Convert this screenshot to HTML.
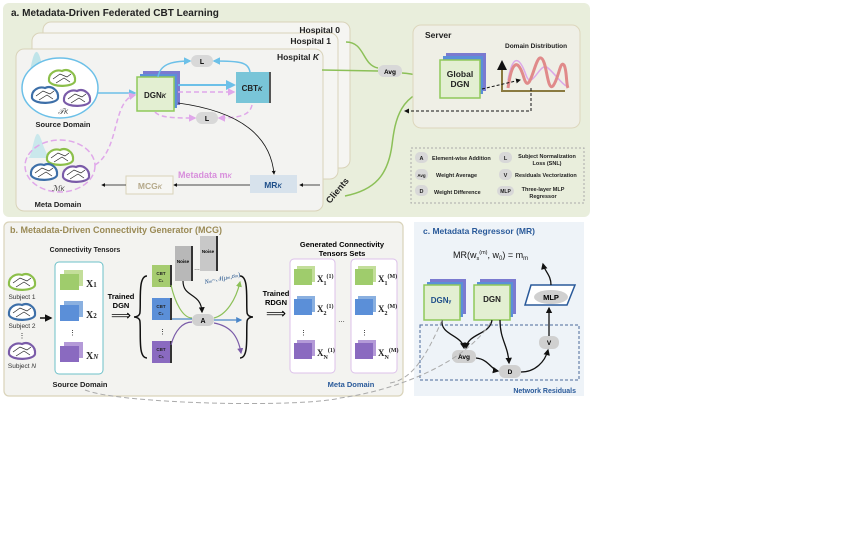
<!DOCTYPE html>
<html><head><meta charset="utf-8"><style>
html,body{margin:0;padding:0;background:#fff;}
svg{display:block;font-family:"Liberation Sans",Arial,sans-serif;}
.b{font-weight:bold;}
</style></head><body>
<svg width="857" height="542" viewBox="0 0 857 542" xmlns="http://www.w3.org/2000/svg">
<defs>
<marker id="ak" viewBox="0 0 10 10" refX="8" refY="5" markerWidth="5" markerHeight="5" orient="auto"><path d="M0,0L10,5L0,10z" fill="#111"/></marker>
<marker id="ab" viewBox="0 0 10 10" refX="8" refY="5" markerWidth="5" markerHeight="5" orient="auto"><path d="M0,0L10,5L0,10z" fill="#6cc0e8"/></marker>
<marker id="ap" viewBox="0 0 10 10" refX="8" refY="5" markerWidth="5" markerHeight="5" orient="auto"><path d="M0,0L10,5L0,10z" fill="#e0a8ea"/></marker>
<marker id="ag" viewBox="0 0 10 10" refX="8" refY="5" markerWidth="5" markerHeight="5" orient="auto"><path d="M0,0L10,5L0,10z" fill="#8cc058"/></marker>
<marker id="av" viewBox="0 0 10 10" refX="8" refY="5" markerWidth="5" markerHeight="5" orient="auto"><path d="M0,0L10,5L0,10z" fill="#7a5ba8"/></marker>
<marker id="abl" viewBox="0 0 10 10" refX="8" refY="5" markerWidth="5" markerHeight="5" orient="auto"><path d="M0,0L10,5L0,10z" fill="#4a86c8"/></marker>
<g id="brain"><path d="M-13,2 C-14,-6 -6,-10 0,-8 C6,-11 14,-6 13,2 C12,8 -10,9 -13,2z" fill="#fff" stroke-width="2.2"/><path d="M-9,0 L-2,-5 L5,-2 L9,-5 M-6,4 L2,-1 L8,3" stroke="#222" stroke-width="0.7" fill="none"/></g>
</defs>

<!-- Panel a -->
<rect x="3" y="3" width="587" height="214" rx="6" fill="#e9eedc"/>
<text x="11" y="16" class="b" font-size="10" fill="#222">a. Metadata-Driven Federated CBT Learning</text>
<rect x="43" y="22" width="307" height="146" rx="8" fill="#f5f5f2" stroke="#d9d3b9"/>
<rect x="32" y="33" width="306" height="146" rx="8" fill="#f5f5f2" stroke="#d9d3b9"/>
<rect x="16" y="49" width="307" height="162" rx="8" fill="#f3f3f1" stroke="#d9d3b9"/>
<text x="340" y="33" text-anchor="end" class="b" font-size="8.5" fill="#222">Hospital 0</text>
<text x="331" y="44" text-anchor="end" class="b" font-size="8.5" fill="#222">Hospital 1</text>
<text x="319" y="60" text-anchor="end" class="b" font-size="8.5" fill="#222">Hospital <tspan font-style="italic">K</tspan></text>

<path d="M26,80 C30,80 32,50 37,52 C42,55 42,78 50,80z" fill="#a8dde6" opacity="0.7"/>
<ellipse cx="60" cy="88" rx="38" ry="30" fill="#fff" stroke="#6cc0e8" stroke-width="1.5"/>
<use href="#brain" x="62" y="79" stroke="#8cbf4a"/>
<use href="#brain" x="45" y="96" stroke="#3d6fa8"/>
<use href="#brain" x="77" y="99" stroke="#7a5ba8"/>
<text x="58" y="114" font-size="8" font-style="italic" fill="#333">𝒯<tspan font-size="6">K</tspan></text>
<text x="63" y="127" text-anchor="middle" class="b" font-size="7.5" fill="#222">Source Domain</text>
<path d="M28,158 C32,158 34,132 38,134 C42,136 44,156 52,158z" fill="#b8e2ea" opacity="0.7"/>
<ellipse cx="60" cy="166" rx="35" ry="26" fill="none" stroke="#e0a8ea" stroke-width="1.5" stroke-dasharray="6,3"/>
<use href="#brain" x="60" y="158" stroke="#8cbf4a"/>
<use href="#brain" x="44" y="173" stroke="#3d6fa8"/>
<use href="#brain" x="76" y="175" stroke="#7a5ba8"/>
<text x="52" y="191" font-size="8" font-style="italic" fill="#333">ℳ<tspan font-size="6">K</tspan></text>
<text x="58" y="207" text-anchor="middle" class="b" font-size="7.5" fill="#222">Meta Domain</text>

<rect x="143" y="71" width="37" height="34" fill="#7a7ad0"/>
<rect x="140" y="74" width="37" height="34" fill="#5b8fd8"/>
<rect x="137" y="77" width="37" height="34" fill="#e3efd2" stroke="#8fc95a" stroke-width="1.5"/>
<text x="155" y="98" text-anchor="middle" class="b" font-size="8" fill="#222">DGN<tspan font-size="6" font-style="italic">K</tspan></text>
<rect x="236" y="72" width="33" height="31" fill="#79c5d8"/>
<rect x="269" y="72" width="2" height="31" fill="#555"/>
<text x="252" y="91" text-anchor="middle" class="b" font-size="8" fill="#222">CBT<tspan font-size="6" font-style="italic">K</tspan></text>
<rect x="191" y="55" width="22" height="12" rx="6" fill="#d8d8d8"/><text x="202" y="64" text-anchor="middle" class="b" font-size="7">L</text>
<rect x="196" y="112" width="22" height="12" rx="6" fill="#d8d8d8"/><text x="207" y="121" text-anchor="middle" class="b" font-size="7">L</text>
<path d="M158,77 C160,65 170,61 190,61" stroke="#6cc0e8" stroke-width="1.5" fill="none" marker-end="url(#ab)"/>
<path d="M250,72 C248,62 240,61 214,61" stroke="#6cc0e8" stroke-width="1.5" fill="none" marker-end="url(#ab)"/>
<line x1="97" y1="93" x2="135" y2="93" stroke="#6cc0e8" stroke-width="1.5" marker-end="url(#ab)"/>
<line x1="178" y1="85" x2="234" y2="85" stroke="#6cc0e8" stroke-width="2" marker-end="url(#ab)"/>
<line x1="178" y1="92" x2="234" y2="92" stroke="#e0a8ea" stroke-width="1.5" stroke-dasharray="5,3" marker-end="url(#ap)"/>
<path d="M155,112 C160,118 175,118 195,118" stroke="#e0a8ea" stroke-width="1.5" stroke-dasharray="5,3" fill="none" marker-end="url(#ap)"/>
<path d="M252,105 C250,115 240,118 219,118" stroke="#e0a8ea" stroke-width="1.5" stroke-dasharray="5,3" fill="none" marker-end="url(#ap)"/>
<path d="M95,165 C120,150 112,100 135,95" stroke="#e0a8ea" stroke-width="1.5" stroke-dasharray="5,3" fill="none" marker-end="url(#ap)"/>
<path d="M178,103 C230,110 270,130 274,174" stroke="#111" stroke-width="0.8" fill="none" marker-end="url(#ak)"/>
<rect x="250" y="175" width="47" height="18" fill="#d7e2ec"/>
<text x="273" y="188" text-anchor="middle" class="b" font-size="8.5" fill="#1e4f8a">MR<tspan font-size="6" font-style="italic">K</tspan></text>
<rect x="126" y="176" width="47" height="18" fill="#f6f6f3" stroke="#d9d3b9"/>
<text x="150" y="189" text-anchor="middle" class="b" font-size="8.5" fill="#b5a98a">MCG<tspan font-size="6" font-style="italic">K</tspan></text>
<text x="178" y="178" class="b" font-size="9" fill="#d88fdc">Metadata m<tspan font-size="6" font-style="italic">K</tspan></text>
<line x1="250" y1="185" x2="174" y2="185" stroke="#111" stroke-width="0.8" marker-end="url(#ak)"/>
<line x1="126" y1="185" x2="102" y2="185" stroke="#111" stroke-width="0.8" marker-end="url(#ak)"/>
<line x1="320" y1="185" x2="300" y2="185" stroke="#111" stroke-width="0.8" marker-end="url(#ak)"/>
<text x="330" y="204" class="b" font-size="9" fill="#222" transform="rotate(-50 330 204)">Clients</text>

<path d="M346,42 C365,42 362,65 378,68" stroke="#8cc058" stroke-width="1.5" fill="none"/>
<path d="M322,70 L378,71" stroke="#8cc058" stroke-width="1.5" fill="none"/>
<rect x="378" y="65" width="24" height="12" rx="6" fill="#d8d8d8"/><text x="390" y="74" text-anchor="middle" class="b" font-size="6.5">Avg</text>
<path d="M402,73 C420,74 420,78 438,79" stroke="#8cc058" stroke-width="1.5" fill="none" marker-end="url(#ag)"/>
<path d="M437,88 C400,92 395,120 392,145 C388,175 375,190 345,196" stroke="#8cc058" stroke-width="1.5" fill="none"/>

<rect x="413" y="25" width="167" height="103" rx="8" fill="#efefe6" stroke="#ddd6bc"/>
<text x="425" y="38" class="b" font-size="8.5" fill="#222">Server</text>
<rect x="446" y="53" width="40" height="38" fill="#7a7ad0"/>
<rect x="443" y="56" width="40" height="38" fill="#5b8fd8"/>
<rect x="440" y="60" width="40" height="38" fill="#e3efd2" stroke="#8fc95a" stroke-width="1.5"/>
<text x="460" y="77" text-anchor="middle" class="b" font-size="8.5" fill="#222">Global</text>
<text x="460" y="87" text-anchor="middle" class="b" font-size="8.5" fill="#222">DGN</text>
<text x="505" y="48" class="b" font-size="6.5" fill="#222">Domain Distribution</text>
<path d="M508,80 C513,52 520,58 526,75 C532,92 540,60 548,68 C556,75 560,82 566,86" stroke="#dba8e8" stroke-width="1.5" fill="none"/>
<path d="M508,88 C512,60 518,58 524,78 C530,98 535,55 541,58 C547,60 547,92 553,86 C559,78 560,60 564,65 C567,70 566,84 568,88" stroke="#e08a8a" stroke-width="3" fill="none"/>
<path d="M502,92 L502,62" stroke="#8a7a40" stroke-width="2" fill="none" marker-end="url(#ak)"/>
<path d="M502,91 L565,91" stroke="#8a7a40" stroke-width="2" fill="none"/>
<path d="M482,89 L520,80" stroke="#111" stroke-dasharray="3,2" fill="none" marker-end="url(#ak)"/>
<path d="M531,88 L531,111 L405,111" stroke="#111" stroke-dasharray="3,2" fill="none" marker-end="url(#ak)"/>

<rect x="411" y="148" width="173" height="55" fill="none" stroke="#aaa" stroke-dasharray="2,2"/>
<g font-size="5.5" class="b" fill="#222">
<rect x="415" y="152" width="13" height="11" rx="5" fill="#d8d8d8"/><text x="421.5" y="160" text-anchor="middle">A</text><text x="432" y="160">Element-wise Addition</text>
<rect x="415" y="169" width="13" height="11" rx="5" fill="#d8d8d8"/><text x="421.5" y="177" text-anchor="middle" font-size="4.5">Avg</text><text x="436" y="177">Weight Average</text>
<rect x="415" y="185" width="13" height="11" rx="5" fill="#d8d8d8"/><text x="421.5" y="193" text-anchor="middle">D</text><text x="434" y="194">Weight Difference</text>
<rect x="499" y="152" width="13" height="11" rx="5" fill="#d8d8d8"/><text x="505.5" y="160" text-anchor="middle">L</text><text x="547" y="158" text-anchor="middle">Subject Normalization</text><text x="547" y="165" text-anchor="middle">Loss (SNL)</text>
<rect x="499" y="169" width="13" height="11" rx="5" fill="#d8d8d8"/><text x="505.5" y="177" text-anchor="middle">V</text><text x="515" y="177">Residuals Vectorization</text>
<rect x="497" y="186" width="17" height="10" rx="5" fill="#d8d8d8"/><text x="505.5" y="193" text-anchor="middle" font-size="5">MLP</text><text x="543" y="191" text-anchor="middle">Three-layer MLP</text><text x="543" y="198" text-anchor="middle">Regressor</text>
</g>

<!-- Panel b -->
<rect x="4" y="222" width="399" height="174" rx="5" fill="#f3f3f0" stroke="#d9d3b9" stroke-width="1.2"/>
<text x="10" y="233" class="b" font-size="9" fill="#9a8a55">b. Metadata-Driven Connectivity Generator (MCG)</text>
<text x="85" y="252" text-anchor="middle" class="b" font-size="7" fill="#222">Connectivity Tensors</text>
<use href="#brain" x="22" y="283" stroke="#8cbf4a"/>
<text x="22" y="299" text-anchor="middle" font-size="6.5" fill="#333">Subject 1</text>
<use href="#brain" x="22" y="313" stroke="#3d6fa8"/>
<text x="22" y="328" text-anchor="middle" font-size="6.5" fill="#333">Subject 2</text>
<text x="22" y="338" text-anchor="middle" font-size="7">⋮</text>
<use href="#brain" x="22" y="352" stroke="#7a5ba8"/>
<text x="22" y="368" text-anchor="middle" font-size="6.5" fill="#333">Subject <tspan font-style="italic">N</tspan></text>
<line x1="40" y1="318" x2="51" y2="318" stroke="#111" stroke-width="1.5" marker-end="url(#ak)"/>
<rect x="55" y="262" width="48" height="112" rx="4" fill="#fff" stroke="#6cc0c8"/>
<rect x="64" y="270" width="19" height="16" fill="#c3de9a"/><rect x="60" y="274" width="19" height="16" fill="#9fcc6c"/>
<rect x="64" y="301" width="19" height="16" fill="#8ab0e0"/><rect x="60" y="305" width="19" height="16" fill="#5b8fd8"/>
<rect x="64" y="342" width="19" height="16" fill="#b49ad8"/><rect x="60" y="346" width="19" height="16" fill="#8a6ac0"/>
<text x="69" y="335" font-size="7">⋮</text>
<g font-family="Liberation Serif,serif" font-weight="bold" font-size="10" fill="#222">
<text x="86" y="287">X<tspan font-size="7">1</tspan></text><text x="86" y="318">X<tspan font-size="7">2</tspan></text><text x="86" y="359">X<tspan font-size="7" font-style="italic">N</tspan></text>
</g>
<text x="80" y="387" text-anchor="middle" class="b" font-size="7.5" fill="#222">Source Domain</text>
<text x="121" y="299" text-anchor="middle" class="b" font-size="7.5">Trained</text>
<text x="121" y="308" text-anchor="middle" class="b" font-size="7.5">DGN</text>
<text x="121" y="320" text-anchor="middle" font-size="14">⟹</text>
<path d="M147,276 C138,276 141,300 140,312 C140,316 136,317 134,317 C136,317 140,318 140,322 C141,336 138,358 147,358" stroke="#111" stroke-width="1.5" fill="none"/>
<path d="M240,276 C249,276 246,300 247,312 C247,316 251,317 253,317 C251,317 247,318 247,322 C246,336 249,358 240,358" stroke="#111" stroke-width="1.5" fill="none"/>
<rect x="152" y="265" width="18" height="22" fill="#a6cc70"/><rect x="170" y="265" width="2" height="22" fill="#333"/>
<rect x="152" y="298" width="18" height="22" fill="#5b8fd8"/><rect x="170" y="298" width="2" height="22" fill="#333"/>
<rect x="152" y="341" width="18" height="22" fill="#8a6ac0"/><rect x="170" y="341" width="2" height="22" fill="#333"/>
<g font-size="4.5" class="b" fill="#222"><text x="161" y="275" text-anchor="middle">CBT</text><text x="161" y="282" text-anchor="middle">C₁</text><text x="161" y="308" text-anchor="middle">CBT</text><text x="161" y="315" text-anchor="middle">C₂</text><text x="161" y="351" text-anchor="middle">CBT</text><text x="161" y="358" text-anchor="middle">Cₙ</text></g>
<text x="159" y="334" font-size="7">⋮</text>
<rect x="175" y="246" width="16" height="35" fill="#b8b8b8"/><rect x="191" y="246" width="2" height="35" fill="#333"/>
<rect x="200" y="236" width="16" height="35" fill="#c8c8c8"/><rect x="216" y="236" width="2" height="35" fill="#333"/>
<text x="183" y="263" text-anchor="middle" font-size="4.5" class="b">Noise</text><text x="208" y="253" text-anchor="middle" font-size="4.5" class="b">Noise</text>
<text x="194" y="270" font-size="6">…</text>
<text x="205" y="284" font-size="6.5" font-style="italic" fill="#1e4f8a" font-family="Liberation Serif,serif" transform="rotate(-12 205 284)">N<tspan font-size="4.5">m</tspan>~𝒩(μ<tspan font-size="4.5">m</tspan>,σ<tspan font-size="4.5">m</tspan>)</text>
<rect x="192" y="314" width="22" height="12" rx="6" fill="#d0d0d0"/><text x="203" y="323" text-anchor="middle" class="b" font-size="7">A</text>
<path d="M183,281 C183,298 201,292 202,312" stroke="#111" stroke-width="1.2" fill="none" marker-end="url(#ak)"/>
<path d="M171,285 C175,303 183,318 192,318" stroke="#8cc058" stroke-width="1.2" fill="none"/>
<line x1="172" y1="319" x2="192" y2="319" stroke="#4a86c8" stroke-width="1.2"/>
<path d="M171,345 C175,330 183,322 192,322" stroke="#7a5ba8" stroke-width="1.2" fill="none"/>
<path d="M214,318 C226,315 236,300 240,282" stroke="#8cc058" stroke-width="1.2" fill="none" marker-end="url(#ag)"/>
<line x1="214" y1="320" x2="241" y2="320" stroke="#4a86c8" stroke-width="1.2" marker-end="url(#abl)"/>
<path d="M214,323 C230,326 238,335 241,353" stroke="#7a5ba8" stroke-width="1.2" fill="none" marker-end="url(#av)"/>
<text x="276" y="296" text-anchor="middle" class="b" font-size="7.5">Trained</text>
<text x="276" y="305" text-anchor="middle" class="b" font-size="7.5">RDGN</text>
<text x="276" y="318" text-anchor="middle" font-size="14">⟹</text>
<text x="342" y="247" text-anchor="middle" class="b" font-size="7.5">Generated Connectivity</text>
<text x="342" y="256" text-anchor="middle" class="b" font-size="7.5">Tensors Sets</text>
<rect x="290" y="259" width="45" height="114" rx="4" fill="#fff" stroke="#dcc0ea"/>
<rect x="351" y="259" width="46" height="114" rx="4" fill="#fff" stroke="#dcc0ea"/>
<g>
<rect x="297" y="266" width="18" height="16" fill="#c3de9a"/><rect x="294" y="269" width="18" height="16" fill="#9fcc6c"/>
<rect x="297" y="296" width="18" height="16" fill="#8ab0e0"/><rect x="294" y="299" width="18" height="16" fill="#5b8fd8"/>
<rect x="297" y="340" width="18" height="16" fill="#b49ad8"/><rect x="294" y="343" width="18" height="16" fill="#8a6ac0"/>
<rect x="358" y="266" width="18" height="16" fill="#c3de9a"/><rect x="355" y="269" width="18" height="16" fill="#9fcc6c"/>
<rect x="358" y="296" width="18" height="16" fill="#8ab0e0"/><rect x="355" y="299" width="18" height="16" fill="#5b8fd8"/>
<rect x="358" y="340" width="18" height="16" fill="#b49ad8"/><rect x="355" y="343" width="18" height="16" fill="#8a6ac0"/>
</g>
<text x="300" y="335" font-size="7">⋮</text><text x="361" y="335" font-size="7">⋮</text><text x="338" y="322" font-size="7">…</text>
<g font-family="Liberation Serif,serif" font-weight="bold" font-size="9" fill="#222">
<text x="317" y="282">X<tspan font-size="6" dy="3">1</tspan><tspan font-size="6" dy="-7">(1)</tspan></text>
<text x="317" y="312">X<tspan font-size="6" dy="3">2</tspan><tspan font-size="6" dy="-7">(1)</tspan></text>
<text x="317" y="356">X<tspan font-size="6" dy="3">N</tspan><tspan font-size="6" dy="-7">(1)</tspan></text>
<text x="378" y="282">X<tspan font-size="6" dy="3">1</tspan><tspan font-size="6" dy="-7">(M)</tspan></text>
<text x="378" y="312">X<tspan font-size="6" dy="3">2</tspan><tspan font-size="6" dy="-7">(M)</tspan></text>
<text x="378" y="356">X<tspan font-size="6" dy="3">N</tspan><tspan font-size="6" dy="-7">(M)</tspan></text>
</g>
<text x="351" y="387" text-anchor="middle" class="b" font-size="7.5" fill="#2a5a9a">Meta Domain</text>

<!-- Panel c -->
<rect x="414" y="222" width="170" height="174" fill="#eef3f8"/>
<text x="423" y="234" class="b" font-size="8.5" fill="#2a5a9a">c. Metadata Regressor (MR)</text>
<text x="453" y="258" font-size="9" fill="#111">MR(w<tspan font-size="5.5" dy="2">s</tspan><tspan font-size="5.5" dy="-6">(m)</tspan><tspan dy="4">, w</tspan><tspan font-size="6" dy="2">0</tspan><tspan dy="-2">) = m</tspan><tspan font-size="6" dy="2">m</tspan></text>
<rect x="430" y="279" width="36" height="35" fill="#7a7ad0"/><rect x="427" y="282" width="36" height="35" fill="#5b8fd8"/>
<rect x="424" y="285" width="36" height="35" fill="#e3efd2" stroke="#8fc95a" stroke-width="1.5"/>
<text x="441" y="303" text-anchor="middle" class="b" font-size="8" fill="#1e4f8a">DGN<tspan font-size="5">γ</tspan></text>
<rect x="480" y="279" width="36" height="35" fill="#7a7ad0"/><rect x="477" y="282" width="36" height="35" fill="#5b8fd8"/>
<rect x="474" y="285" width="36" height="35" fill="#e3efd2" stroke="#8fc95a" stroke-width="1.5"/>
<text x="492" y="302" text-anchor="middle" class="b" font-size="8" fill="#222">DGN</text>
<path d="M531,285 L575,285 L567,305 L525,305z" fill="#fff" stroke="#2a5a9a" stroke-width="1.5"/>
<ellipse cx="551" cy="297" rx="17" ry="7" fill="#d0d0d0"/>
<text x="551" y="300" text-anchor="middle" class="b" font-size="7.5">MLP</text>
<rect x="420" y="325" width="159" height="55" fill="none" stroke="#4a6a9a" stroke-dasharray="3,2"/>
<text x="576" y="393" text-anchor="end" class="b" font-size="7" fill="#2a5a9a">Network Residuals</text>
<rect x="452" y="350" width="24" height="13" rx="6" fill="#d0d0d0"/><text x="464" y="359" text-anchor="middle" class="b" font-size="6.5">Avg</text>
<rect x="499" y="365" width="22" height="13" rx="6" fill="#d0d0d0"/><text x="510" y="374" text-anchor="middle" class="b" font-size="6.5">D</text>
<rect x="539" y="336" width="20" height="13" rx="6" fill="#d0d0d0"/><text x="549" y="345" text-anchor="middle" class="b" font-size="6.5">V</text>
<path d="M442,320 C440,335 462,335 464,348" stroke="#111" stroke-width="1.3" fill="none" marker-end="url(#ak)"/>
<path d="M492,320 C490,335 468,333 466,348" stroke="#111" stroke-width="1.3" fill="none" marker-end="url(#ak)"/>
<path d="M500,320 C500,340 508,345 509,363" stroke="#111" stroke-width="1.3" fill="none" marker-end="url(#ak)"/>
<path d="M476,358 C488,359 492,370 498,371" stroke="#111" stroke-width="1.3" fill="none" marker-end="url(#ak)"/>
<path d="M521,372 C535,372 545,362 548,350" stroke="#111" stroke-width="1.3" fill="none" marker-end="url(#ak)"/>
<line x1="549" y1="336" x2="549" y2="308" stroke="#111" stroke-width="1.3" marker-end="url(#ak)"/>
<path d="M551,285 C551,275 545,272 543,264" stroke="#111" stroke-width="1.3" fill="none" marker-end="url(#ak)"/>
<path d="M390,383 C410,380 425,360 442,320" stroke="#aaa" stroke-dasharray="5,3" fill="none"/>
<path d="M85,390 C120,404 300,408 340,398 C400,390 470,360 492,320" stroke="#aaa" stroke-dasharray="5,3" fill="none"/>
</svg>
</body></html>
